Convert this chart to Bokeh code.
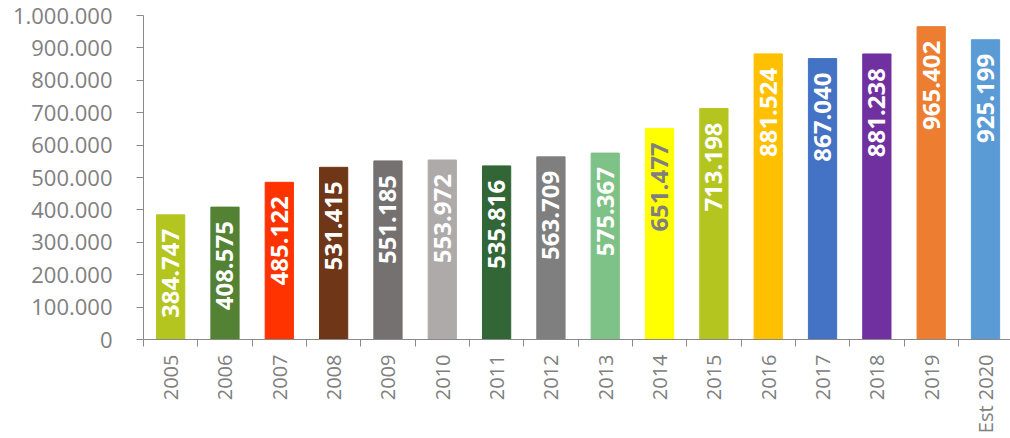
import math
from bokeh.plotting import figure
from bokeh.models import Range1d, FixedTicker, ColumnDataSource
from bokeh.core.properties import value
from bokeh.embed import file_html
from bokeh.resources import INLINE

categories = ["2005", "2006", "2007", "2008", "2009", "2010", "2011", "2012",
              "2013", "2014", "2015", "2016", "2017", "2018", "2019", "Est 2020"]
values = [384747, 408575, 485122, 531415, 551185, 553972, 535816, 563709,
          575367, 651477, 713198, 881524, 867040, 881238, 965402, 925199]
labels = ["384.747", "408.575", "485.122", "531.415", "551.185", "553.972",
          "535.816", "563.709", "575.367", "651.477", "713.198", "881.524",
          "867.040", "881.238", "965.402", "925.199"]
colors = ["#B5C51F", "#548235", "#FF3300", "#6F3618", "#767171", "#AEAAAA",
          "#326636", "#7F7F7F", "#7FC287", "#FFFF00", "#B5C51F", "#FFC000",
          "#4472C4", "#7030A0", "#ED7D31", "#5B9BD5"]
label_colors = ["white"] * 9 + ["#7F7F7F"] + ["white"] * 6
y_ticks = [0, 100000, 200000, 300000, 400000, 500000, 600000, 700000, 800000, 900000, 1000000]
y_tick_labels = ["0", "100.000", "200.000", "300.000", "400.000", "500.000",
                 "600.000", "700.000", "800.000", "900.000", "1.000.000"]

xs = list(range(len(categories)))
src = ColumnDataSource(dict(x=xs, top=values, color=colors, label=labels, lc=label_colors))

p = figure(frame_width=867, frame_height=324, output_backend="svg", toolbar_location=None,
           x_range=Range1d(-0.5, 15.46), y_range=Range1d(0, 1000000),
           min_border_left=143, min_border_top=15, min_border_right=0, min_border_bottom=99)
p.outline_line_color = None
p.grid.grid_line_color = None
p.background_fill_color = "white"

p.vbar(x="x", top="top", width=0.52, bottom=0, color="color", source=src)
p.text(x="x", y="top", text="label", source=src, angle=math.pi / 2,
       text_align="right", text_baseline="middle", y_offset=14,
       text_color="lc", text_font=value("Open Sans"), text_font_style="bold",
       text_font_size="24px")

axcol = "#898989"
xa = p.xaxis[0]
xa.ticker = FixedTicker(ticks=xs, minor_ticks=[i - 0.5 for i in range(len(categories) + 1)])
xa.major_label_overrides = {i: c for i, c in enumerate(categories)}
xa.major_label_orientation = math.pi / 2
xa.major_tick_out = 0
xa.major_tick_in = 0
xa.minor_tick_out = 7
xa.minor_tick_in = 0
xa.axis_line_color = axcol
xa.minor_tick_line_color = axcol
xa.major_label_text_font = "Open Sans"
xa.major_label_text_font_size = "20px"
xa.major_label_text_color = "#808080"
xa.major_label_standoff = 8

ya = p.yaxis[0]
ya.ticker = FixedTicker(ticks=y_ticks)
ya.major_label_overrides = {t: l for t, l in zip(y_ticks, y_tick_labels)}
ya.major_tick_out = 7
ya.major_tick_in = 0
ya.minor_tick_line_color = None
ya.axis_line_color = axcol
ya.major_tick_line_color = axcol
ya.major_label_text_font = "Open Sans"
ya.major_label_text_font_size = "22px"
ya.major_label_text_color = "#808080"
ya.major_label_standoff = 24

open("out.html", "w").write(file_html(p, INLINE))
